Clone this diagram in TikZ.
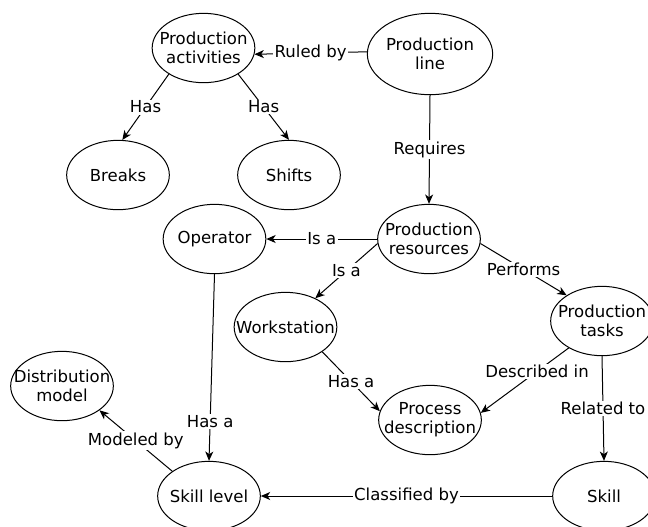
\documentclass[tikz,border=0pt]{standalone}
\usepackage{fontspec}
\setmainfont{DejaVu Sans}
\usetikzlibrary{shapes.geometric,arrows.meta}
\definecolor{ink}{HTML}{000000}
\tikzset{
  ent/.style={ellipse,draw=ink,line width=0.75pt,fill=white,align=center,
    minimum width=77pt,minimum height=52pt,inner xsep=-12pt,inner ysep=-8pt,
    font=\fontsize{12.4pt}{14.4pt}\selectfont},
  bigent/.style={ent,minimum width=94pt,minimum height=61pt},
  rel/.style={ink,line width=0.75pt,-{Stealth[length=7pt,width=6pt,inset=2pt]}},
  lbl/.style={fill=white,inner sep=1pt,font=\fontsize{12.4pt}{14.4pt}\selectfont},
}
\begin{document}
\begin{tikzpicture}[x=0.75pt,y=-0.75pt]
  \useasboundingbox (0,0) rectangle (648,526);
  % ---------- entities ----------
  \node[ent]    (pa)  at (203.5,48) {Production\\activities};
  \node[bigent] (pl)  at (430,54)   {Production\\line};
  \node[ent]    (brk) at (118,175)  {Breaks};
  \node[ent]    (shf) at (289,175)  {Shifts};
  \node[ent]    (op)  at (214.5,239) {Operator};
  \node[ent]    (pr)  at (429,239)  {Production\\resources};
  \node[ent]    (ws)  at (285.5,327) {Workstation};
  \node[ent]    (pt)  at (602,321)  {Production\\tasks};
  \node[ent]    (dm)  at (62,386)   {Distribution\\model};
  \node[ent]    (pd)  at (430,420)  {Process\\description};
  \node[ent]    (sl)  at (209,496)  {Skill level};
  \node[ent]    (sk)  at (604,496)  {Skill};
  % ---------- relations ----------
  \draw[rel] (pl.178) -- node[lbl] {Ruled by} (pa.353);
  \draw[rel] (pa.217) -- node[lbl] {Has} (brk.83);
  \draw[rel] (pa.323) -- node[lbl] {Has} (shf.north);
  \draw[rel] (pl.south) -- node[lbl] {Requires} (pr.north);
  \draw[rel] (pr.west) -- node[lbl] {Is a} (op.east);
  \draw[rel] (pr.185) -- node[lbl] {Is a} (ws.44);
  \draw[rel] (pr.355) -- node[lbl] {Performs} (pt.144);
  \draw[rel] (op.south) -- node[lbl,pos=0.79] {Has a} (sl.north);
  \draw[rel] (ws.326) -- node[lbl] {Has a} (pd.170);
  \draw[rel] (pt.219) -- node[lbl,pos=0.36] {Described in} (pd.8);
  \draw[rel] (pt.south) -- node[lbl] {Related to} (sk.north);
  \draw[rel] (sk.west) -- node[lbl] {Classified by} (sl.east);
  \draw[rel] (sl.146) -- node[lbl] {Modeled by} (dm.327);
\end{tikzpicture}
\end{document}
